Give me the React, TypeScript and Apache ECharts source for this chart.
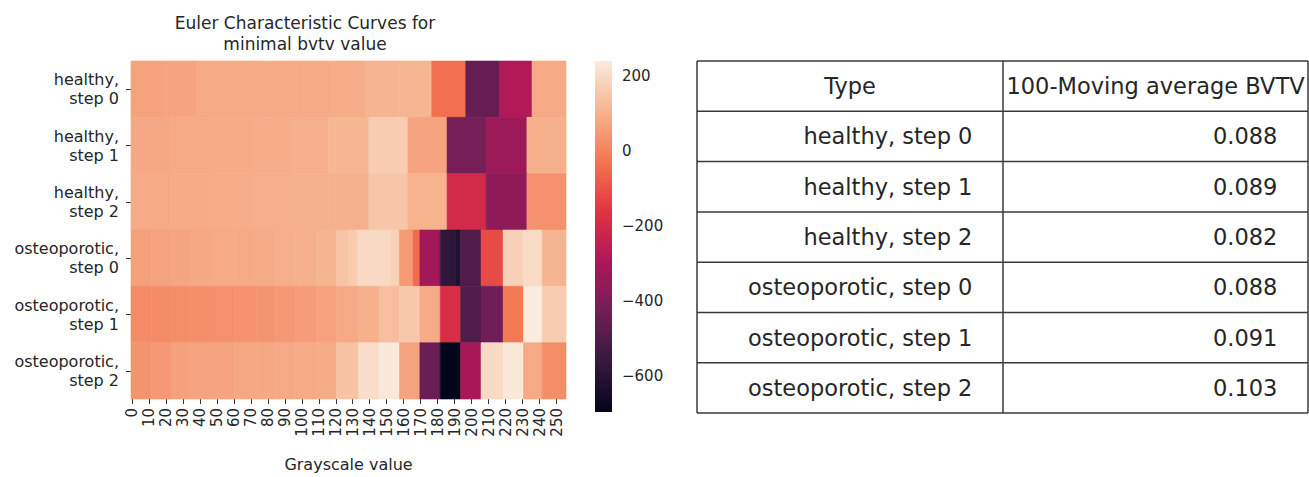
import React, { useEffect, useRef } from "react";
import * as echarts from "echarts";

const rowLabels = [
  "healthy, step 0",
  "healthy, step 1",
  "healthy, step 2",
  "osteoporotic, step 0",
  "osteoporotic, step 1",
  "osteoporotic, step 2",
];

// Each entry: [end grayscale (exclusive), Euler characteristic value]
const healthyStep0 = [[20, 67], [39, 76], [59, 85], [79, 85], [98, 87], [118, 88], [138, 91], [158, 108], [177, 112], [197, -40], [217, -455], [236, -285], [256, 83]];
const healthyStep1 = [[23, 80], [47, 87], [70, 90], [93, 91], [116, 95], [140, 112], [163, 165], [186, 72], [209, -415], [233, -332], [256, 97]];
const healthyStep2 = [[23, 85], [47, 90], [70, 91], [93, 96], [116, 97], [140, 100], [163, 150], [186, 104], [209, -200], [233, -366], [256, 33]];
const osteoStep0 = [[12, 63], [23, 70], [35, 74], [47, 80], [61, 85], [73, 88], [85, 90], [97, 95], [109, 100], [121, 107], [128, 145], [133, 160], [153, 196], [158, 177], [166, 50], [170, -50], [182, -316], [191, -583], [194, -617], [206, -496], [219, -115], [231, 177], [242, 200], [256, 110]];
const osteoStep1 = [[12, 18], [24, 20], [35, 24], [47, 26], [61, 30], [74, 35], [85, 40], [97, 48], [109, 56], [121, 68], [134, 82], [146, 97], [158, 128], [170, 155], [182, 87], [194, -187], [206, -500], [219, -435], [231, -20], [242, 240], [256, 165]];
const osteoStep2 = [[12, 37], [24, 46], [35, 66], [47, 70], [61, 73], [74, 78], [85, 80], [97, 82], [109, 86], [121, 90], [134, 143], [146, 205], [158, 236], [170, 70], [182, -440], [194, -695], [206, -305], [219, 198], [231, 232], [242, 82], [256, 22]];

const rowSegments = [healthyStep0, healthyStep1, healthyStep2, osteoStep0, osteoStep1, osteoStep2];

const grayLevels = Array.from({ length: 256 }, (_, i) => String(i));
const colorMin = -695;
const colorMax = 240;
const colorbarTicks = [-600, -400, -200, 0, 200];
const rocketStops = ["#03051a", "#35193e", "#701f57", "#ad1759", "#e13342", "#f37651", "#f6b48f", "#faebdd"];

const tableHeader = ["Type", "100-Moving average BVTV"];
const tableTypes = rowLabels;
const bvtvValues = ["0.088", "0.089", "0.082", "0.088", "0.091", "0.103"];

const FONT = "DejaVu Sans";
const TXT = "#262626";

export default function App() {
  const ref = useRef<HTMLDivElement>(null);

  useEffect(() => {
    if (!ref.current) return;
    const chart = echarts.init(ref.current, undefined, { renderer: "svg" });

    const segData: number[][] = [];
    rowSegments.forEach((segs, r) => {
      let prev = 0;
      segs.forEach(([end, v]) => {
        segData.push([prev, end - 1, r, v]);
        prev = end;
      });
    });

    // table
    const tX = [697, 1003, 1308];
    const tTop = 61;
    const rowH = 50.3;
    const nRows = tableTypes.length + 1;
    const tableEls: any[] = [];
    for (let i = 0; i <= nRows; i++) {
      const y = tTop + i * rowH;
      tableEls.push({ type: "line", shape: { x1: tX[0], y1: y, x2: tX[2], y2: y }, style: { stroke: "#3a3a3a", lineWidth: 1.5 } });
    }
    tX.forEach((x) => {
      tableEls.push({ type: "line", shape: { x1: x, y1: tTop, x2: x, y2: tTop + nRows * rowH }, style: { stroke: "#3a3a3a", lineWidth: 1.5 } });
    });
    const tFont = `22.5px "${FONT}"`;
    tableEls.push({ type: "text", x: (tX[0] + tX[1]) / 2, y: tTop + rowH / 2, style: { text: tableHeader[0], font: tFont, fill: TXT, align: "center", verticalAlign: "middle" } });
    tableEls.push({ type: "text", x: (tX[1] + tX[2]) / 2, y: tTop + rowH / 2, style: { text: tableHeader[1], font: tFont, fill: TXT, align: "center", verticalAlign: "middle" } });
    tableTypes.forEach((t, i) => {
      const cy = tTop + (i + 1.5) * rowH;
      tableEls.push({ type: "text", x: tX[1] - 30.6, y: cy, style: { text: t, font: tFont, fill: TXT, align: "right", verticalAlign: "middle" } });
      tableEls.push({ type: "text", x: tX[2] - 30.6, y: cy, style: { text: bvtvValues[i], font: tFont, fill: TXT, align: "right", verticalAlign: "middle" } });
    });

    const option: any = {
      animation: false,
      textStyle: { fontFamily: FONT },
      grid: [
        { left: 131, top: 61, width: 435, height: 351 },
        { left: 595, top: 61, width: 17, height: 351 },
      ],
      xAxis: [
        {
          type: "category",
          gridIndex: 0,
          data: grayLevels,
          boundaryGap: true,
          axisLine: { show: false },
          axisTick: { show: true, length: 5, interval: (i: number) => i % 10 === 0, alignWithLabel: true, lineStyle: { color: "#333" } },
          axisLabel: { interval: (i: number) => i % 10 === 0, rotate: 90, fontSize: 15, color: TXT, margin: 9, fontFamily: FONT },
          name: "Grayscale value",
          nameLocation: "middle",
          nameGap: 57,
          nameTextStyle: { fontSize: 16, color: TXT, fontFamily: FONT },
          splitLine: { show: false },
        },
        { type: "value", gridIndex: 1, min: 0, max: 1, show: false },
      ],
      yAxis: [
        {
          type: "category",
          gridIndex: 0,
          data: rowLabels,
          inverse: true,
          axisLine: { show: false },
          axisTick: { show: true, length: 5, alignWithLabel: true, lineStyle: { color: "#333" } },
          axisLabel: { formatter: (v: string) => v.replace(", ", ",\n"), fontSize: 16, lineHeight: 19, color: TXT, margin: 12, align: "right", fontFamily: FONT },
          splitLine: { show: false },
        },
        {
          type: "value",
          gridIndex: 1,
          position: "right",
          min: colorMin,
          max: colorMax,
          axisLine: { show: false },
          splitLine: { show: false },
          axisTick: { show: true, length: 5, customValues: colorbarTicks, lineStyle: { color: "#333" } },
          axisLabel: {
            customValues: colorbarTicks,
            formatter: (v: number) => (v < 0 ? "\u2212" + Math.abs(v) : String(v)),
            fontSize: 15,
            color: TXT,
            margin: 10,
            fontFamily: FONT,
          },
        },
      ],
      visualMap: {
        type: "continuous",
        show: false,
        min: colorMin,
        max: colorMax,
        dimension: 3,
        seriesIndex: 0,
        inRange: { color: rocketStops },
      },
      series: [
        {
          type: "custom",
          xAxisIndex: 0,
          yAxisIndex: 0,
          encode: { x: 0, y: 2 },
          data: segData,
          renderItem: (params: any, api: any) => {
            const s = api.value(0);
            const e = api.value(1);
            const r = api.value(2);
            const p0 = api.coord([s, r]);
            const p1 = api.coord([e, r]);
            const sz = api.size([1, 1]);
            const x0 = p0[0] - sz[0] / 2;
            const x1 = p1[0] + sz[0] / 2;
            const y0 = p0[1] - sz[1] / 2;
            const color = api.visual("color");
            return {
              type: "rect",
              shape: { x: x0, y: y0, width: x1 - x0, height: sz[1] },
              style: { fill: color, stroke: color, lineWidth: 0.6 },
            };
          },
        },
        {
          type: "custom",
          xAxisIndex: 1,
          yAxisIndex: 1,
          data: [[0, colorMin]],
          renderItem: (params: any) => {
            const cs = params.coordSys;
            return {
              type: "rect",
              shape: { x: cs.x, y: cs.y, width: cs.width, height: cs.height },
              style: {
                fill: new echarts.graphic.LinearGradient(
                  0, 1, 0, 0,
                  rocketStops.map((c, i) => ({ offset: i / (rocketStops.length - 1), color: c }))
                ),
              },
            };
          },
        },
      ],
      graphic: [
        {
          type: "text",
          x: 305,
          y: 12,
          style: {
            text: "Euler Characteristic Curves for\nminimal bvtv value",
            font: `17px "${FONT}"`,
            lineHeight: 21,
            fill: TXT,
            align: "center",
            verticalAlign: "top",
          },
        },
        ...tableEls,
      ],
    };

    chart.setOption(option);
    return () => chart.dispose();
  }, []);

  return <div ref={ref} style={{ position: "absolute", left: 0, top: 0, width: 1309, height: 477 }} />;
}
